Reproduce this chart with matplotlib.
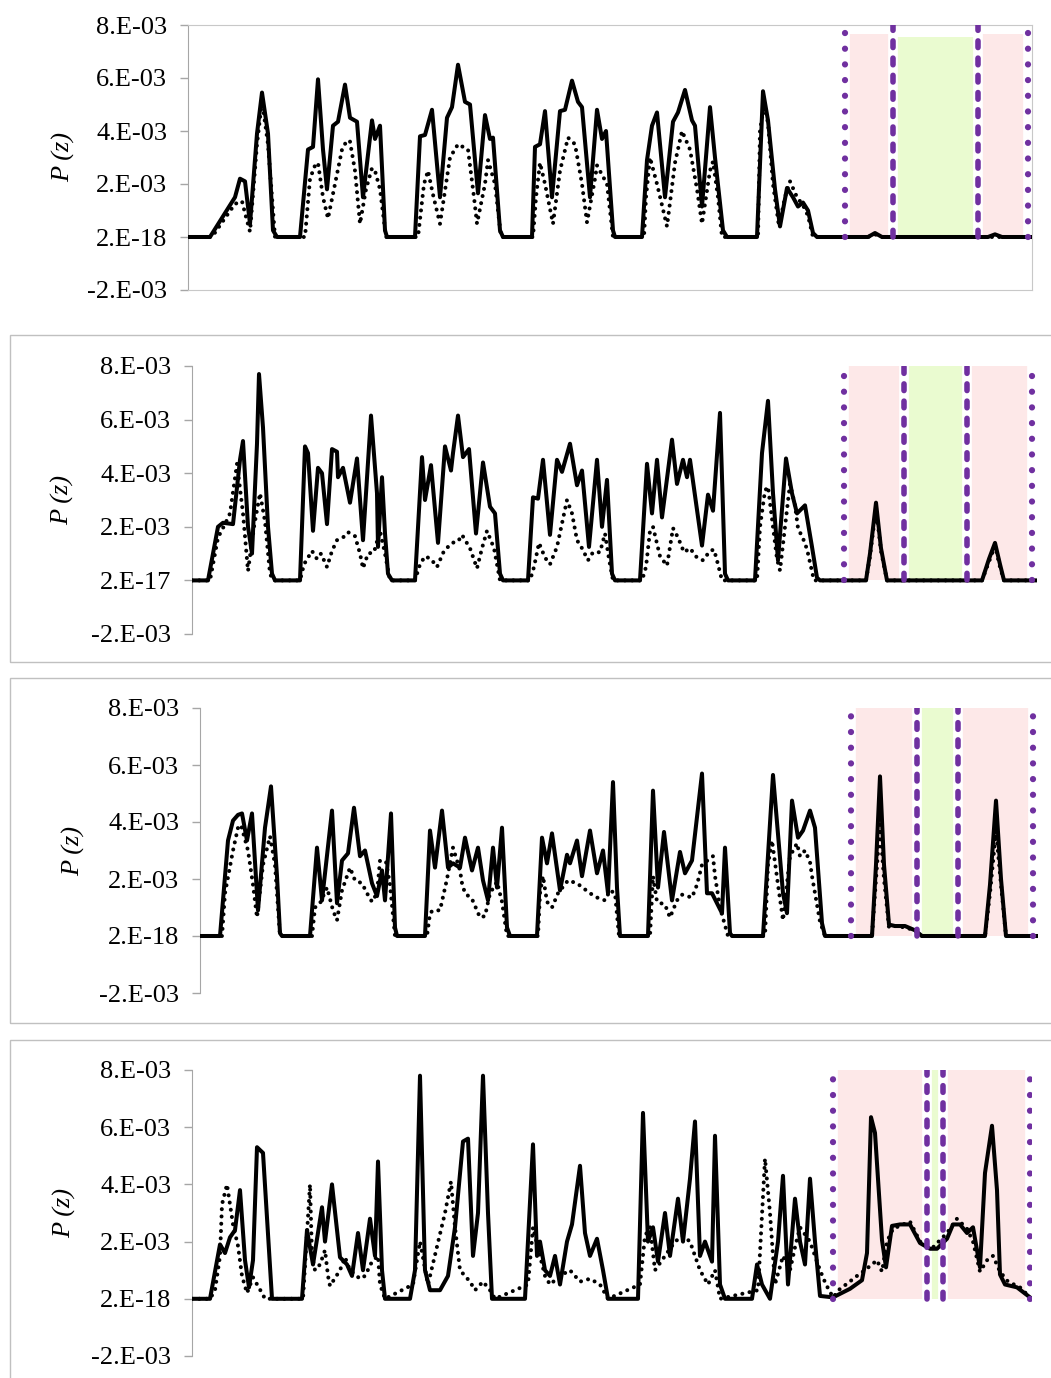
import numpy as np
import matplotlib.pyplot as plt
from matplotlib.patches import Rectangle

plt.rcParams['font.family'] = ['Liberation Serif', 'DejaVu Serif']

# P(z) in units of 1e-3, z in chart units
# ---------- panel 1 ----------
z1_solid = [188, 210, 222, 235, 240, 245, 250, 257, 262, 268, 273, 277, 300, 308, 313, 318, 323, 327, 333, 338,
            345, 350, 357, 363, 372, 375, 380, 385, 387, 415, 420, 425, 432, 440, 447, 452, 458, 465, 470, 478,
            485, 490, 493, 500, 503, 532, 535, 540, 545, 552, 560, 565, 572, 578, 582, 590, 597, 602, 606, 613,
            615, 642, 647, 652, 657, 665, 673, 678, 685, 692, 695, 702, 710, 715, 723, 727, 757, 763, 768, 775,
            780, 787, 793, 798, 803, 808, 813, 817, 868, 875, 882, 988, 995, 1002, 1030]
p1_solid = [0, 0, 0.72, 1.5, 2.2, 2.1, 0.5, 3.9, 5.45, 3.9, 0.25, 0, 0, 3.3, 3.4, 5.95, 3.3, 1.8, 4.2, 4.35,
            5.75, 4.5, 4.35, 1.5, 4.4, 3.7, 4.2, 0.25, 0, 0, 3.8, 3.85, 4.8, 1.5, 4.5, 4.9, 6.5, 5.1, 5.0, 1.65,
            4.6, 3.7, 3.75, 0.25, 0, 0, 3.4, 3.5, 4.75, 1.5, 4.75, 4.8, 5.9, 5.1, 4.9, 1.5, 4.8, 3.7, 4.0, 0.25,
            0, 0, 2.9, 4.2, 4.7, 1.5, 4.35, 4.7, 5.55, 4.4, 4.2, 1.15, 4.9, 3.0, 0.25, 0, 0, 5.5, 4.4, 1.8,
            0.4, 1.85, 1.5, 1.15, 1.3, 1.0, 0.15, 0, 0, 0.15, 0, 0, 0.1, 0, 0]
z1_dot = [188, 212, 222, 235, 242, 245, 250, 257, 262, 268, 275, 305, 310, 315, 318, 323, 328, 335, 342, 347,
          350, 355, 360, 366, 372, 375, 380, 386, 418, 424, 428, 433, 440, 450, 458, 468, 474, 477, 485, 488,
          495, 501, 533, 536, 540, 545, 553, 560, 568, 575, 582, 587, 595, 597, 607, 613, 644, 646, 650, 657,
          667, 675, 682, 690, 697, 702, 710, 713, 718, 722, 758, 760, 764, 768, 773, 779, 785, 790, 797, 803,
          808, 813, 868, 875, 882, 1030]
p1_dot = [0, 0, 0.55, 1.25, 1.35, 0.9, 0.2, 3.5, 5.15, 3.5, 0, 0, 2.2, 2.7, 2.8, 1.5, 0.7, 2.0, 3.3, 3.65,
          3.6, 2.5, 0.5, 1.8, 2.6, 2.5, 1.8, 0, 0, 2.0, 2.5, 1.6, 0.5, 3.0, 3.5, 3.3, 1.5, 0.5, 2.0, 2.9,
          2.0, 0, 0, 1.5, 2.8, 2.0, 0.5, 2.5, 3.75, 3.5, 2.0, 0.55, 2.2, 2.7, 2.0, 0, 0, 1.5, 3.0, 2.0,
          0.4, 2.8, 4.0, 3.3, 1.8, 0.5, 2.5, 2.85, 1.5, 0, 0, 4.0, 5.0, 4.3, 2.0, 0.4, 1.5, 2.1, 1.5, 1.2,
          0.8, 0, 0, 0.1, 0, 0]

# ---------- panel 2 ----------
z2_solid = [192, 208, 218, 223, 233, 240, 243, 248, 252, 257, 259, 263, 268, 272, 275, 300, 305, 308, 313, 318,
            322, 327, 332, 337, 338, 343, 350, 357, 363, 371, 377, 378, 382, 385, 388, 392, 415, 422, 425, 431,
            438, 445, 451, 453, 458, 463, 469, 476, 483, 490, 495, 500, 503, 528, 533, 538, 543, 550, 557, 562,
            570, 577, 582, 589, 597, 602, 607, 612, 615, 640, 647, 652, 657, 662, 672, 677, 683, 687, 690, 702,
            708, 713, 720, 725, 728, 755, 762, 768, 773, 778, 786, 792, 797, 805, 812, 817, 820, 866, 870, 876,
            881, 887, 982, 989, 995, 1000, 1004, 1035]
p2_solid = [0, 0, 2.0, 2.15, 2.1, 4.5, 5.2, 2.0, 1.0, 5.1, 7.7, 5.7, 2.0, 0.25, 0, 0, 5.0, 4.75, 1.85, 4.2,
            4.0, 2.1, 4.9, 4.8, 3.85, 4.2, 2.9, 4.55, 1.5, 6.15, 3.25, 1.25, 3.85, 1.75, 0.25, 0, 0, 4.6, 3.0, 4.3,
            1.4, 5.0, 4.1, 4.75, 6.15, 4.6, 4.9, 1.75, 4.4, 2.75, 2.5, 0.25, 0, 0, 3.1, 3.05, 4.5, 1.7, 4.5, 4.05,
            5.1, 3.55, 4.1, 1.25, 4.5, 2.0, 3.75, 0.25, 0, 0, 4.35, 2.5, 4.5, 2.35, 5.25, 3.6, 4.5, 3.85, 4.5, 1.3,
            3.2, 2.6, 6.25, 0.25, 0, 0, 4.75, 6.7, 3.25, 0.75, 4.55, 3.25, 2.5, 2.8, 1.25, 0.1, 0, 0, 1.0, 2.9,
            1.2, 0, 0, 0.8, 1.4, 0.6, 0, 0]
z2_dot = [192, 210, 218, 225, 230, 237, 243, 248, 254, 260, 265, 270, 273, 300, 304, 308, 312, 317, 321, 327,
          332, 337, 343, 348, 355, 360, 363, 368, 374, 380, 385, 390, 415, 420, 425, 431, 437, 444, 452, 458,
          462, 470, 477, 482, 487, 494, 500, 530, 534, 539, 545, 550, 557, 567, 572, 577, 582, 588, 593, 600,
          605, 609, 613, 642, 646, 650, 653, 660, 667, 673, 678, 684, 690, 697, 703, 710, 714, 718, 722, 757,
          760, 765, 768, 773, 777, 780, 785, 790, 795, 798, 805, 808, 814, 866, 870, 876, 881, 887, 982, 989,
          995, 1000, 1004, 1035]
p2_dot = [0, 0, 1.6, 2.1, 2.5, 4.35, 2.5, 0.35, 2.0, 3.25, 2.2, 0.25, 0, 0, 0.6, 0.85, 1.1, 0.8, 1.0, 0.5,
          1.1, 1.5, 1.6, 1.8, 1.65, 1.0, 0.45, 1.0, 1.05, 1.85, 1.0, 0, 0, 0.6, 0.9, 0.8, 0.5, 1.1, 1.4, 1.45,
          1.7, 1.2, 0.45, 1.2, 1.85, 1.2, 0, 0, 0.5, 1.4, 0.85, 0.6, 1.25, 3.0, 2.5, 1.5, 1.2, 0.75, 1.05, 1.05,
          1.75, 0.8, 0, 0, 0.5, 1.85, 2.0, 0.9, 0.55, 1.95, 1.6, 1.05, 1.2, 0.85, 0.75, 1.1, 1.15, 0.6, 0, 0,
          2.0, 3.35, 3.5, 2.0, 0.8, 0.37, 2.0, 3.6, 2.8, 1.95, 1.4, 1.0, 0, 0, 0.9, 2.7, 1.1, 0, 0, 0.7,
          1.3, 0.5, 0, 0]

# ---------- panel 3 ----------
z3_solid = [200, 220, 228, 233, 238, 242, 247, 252, 258, 265, 271, 277, 280, 282, 310, 317, 322, 332, 337, 342,
            348, 354, 360, 365, 372, 377, 382, 385, 391, 395, 397, 425, 430, 435, 442, 448, 453, 460, 465, 472,
            478, 483, 488, 493, 497, 502, 507, 510, 537, 542, 547, 552, 560, 567, 570, 577, 582, 590, 597, 603,
            608, 613, 617, 620, 648, 653, 658, 664, 672, 680, 685, 692, 702, 707, 712, 717, 722, 725, 730, 732,
            763, 773, 783, 787, 792, 798, 803, 810, 815, 822, 825, 872, 876, 880, 884, 889, 895, 905, 915, 922,
            985, 990, 996, 1001, 1006, 1037]
p3_solid = [0, 0, 3.35, 4.05, 4.25, 4.3, 3.35, 4.3, 0.9, 3.8, 5.25, 2.1, 0.1, 0, 0, 3.1, 1.25, 4.4, 1.15, 2.65,
            2.9, 4.5, 2.8, 3.0, 1.85, 1.4, 2.3, 1.25, 4.3, 0.3, 0, 0, 3.7, 2.4, 4.4, 2.4, 2.55, 2.4, 3.45, 2.3,
            3.1, 1.95, 1.25, 3.1, 1.7, 3.8, 0.3, 0, 0, 3.45, 2.55, 3.6, 1.6, 2.85, 2.55, 3.35, 2.1, 3.7, 2.2, 3.0,
            1.5, 5.4, 1.7, 0, 0, 5.1, 1.7, 3.65, 1.25, 2.95, 2.2, 2.65, 5.7, 1.5, 1.5, 1.15, 0.8, 3.1, 0.1, 0,
            0, 5.65, 1.5, 0.8, 4.75, 3.45, 3.7, 4.4, 3.8, 0.45, 0, 0, 2.5, 5.6, 2.5, 0.4, 0.35, 0.35, 0.2, 0,
            0, 1.8, 4.75, 2.0, 0, 0]
z3_dot = [200, 222, 225, 233, 238, 241, 248, 253, 257, 263, 270, 275, 280, 312, 315, 320, 327, 333, 337, 342,
          350, 355, 362, 367, 372, 377, 380, 386, 390, 395, 427, 430, 433, 440, 447, 453, 460, 462, 465, 472,
          480, 485, 490, 497, 502, 507, 538, 540, 543, 547, 552, 558, 568, 577, 590, 597, 605, 610, 615, 619,
          650, 653, 657, 665, 670, 677, 682, 692, 697, 702, 713, 715, 720, 728, 765, 768, 772, 778, 783, 790,
          797, 800, 805, 810, 812, 820, 825, 872, 876, 880, 884, 889, 895, 905, 915, 922, 985, 990, 996, 1001,
          1006, 1037]
p3_dot = [0, 0, 1.5, 3.0, 3.8, 3.9, 3.0, 1.8, 0.65, 2.5, 3.5, 2.5, 0, 0, 1.0, 1.15, 1.7, 0.9, 0.55, 1.6,
          2.4, 1.95, 1.85, 1.5, 1.2, 1.5, 2.65, 2.6, 1.8, 0, 0, 0.8, 0.9, 0.9, 2.0, 3.1, 2.3, 1.85, 1.5, 1.3,
          0.65, 0.7, 1.5, 1.9, 1.2, 0, 0, 1.5, 2.1, 1.2, 1.0, 1.5, 1.95, 1.85, 1.5, 1.35, 1.25, 1.6, 1.5, 0,
          0, 2.1, 1.2, 1.1, 0.65, 1.25, 1.45, 1.35, 1.8, 2.5, 2.8, 2.1, 1.0, 0, 0, 2.5, 3.35, 1.8, 0.55, 2.8,
          3.25, 2.8, 3.0, 2.6, 2.1, 0.5, 0, 0, 2.0, 3.9, 2.0, 0.3, 0.35, 0.3, 0.2, 0, 0, 1.5, 3.7, 1.8,
          0, 0]

# ---------- panel 4 ----------
z4_solid = [192, 210, 220, 225, 230, 235, 240, 245, 249, 253, 257, 263, 272, 302, 307, 313, 322, 325, 332, 340,
            347, 352, 358, 363, 370, 375, 378, 382, 385, 410, 415, 420, 425, 430, 440, 448, 455, 463, 468, 473,
            478, 483, 488, 492, 525, 533, 537, 540, 545, 550, 555, 560, 567, 572, 580, 585, 590, 597, 603, 608,
            638, 643, 648, 653, 658, 665, 670, 678, 683, 690, 695, 700, 705, 712, 715, 720, 725, 752, 757, 762,
            770, 778, 783, 788, 795, 800, 805, 810, 815, 820, 833, 850, 862, 867, 871, 875, 882, 886, 892, 900,
            910, 920, 930, 937, 947, 953, 960, 967, 973, 980, 985, 992, 997, 1000, 1005, 1017, 1030]
p4_solid = [0, 0, 1.9, 1.6, 2.15, 2.4, 3.8, 1.35, 0.4, 1.35, 5.3, 5.1, 0, 0, 2.4, 1.2, 3.2, 2.0, 4.0, 1.45,
            1.2, 0.8, 2.3, 1.0, 2.8, 1.5, 4.8, 1.0, 0, 0, 1.0, 7.8, 1.0, 0.3, 0.3, 0.8, 2.5, 5.5, 5.6, 1.5,
            3.0, 7.8, 3.0, 0, 0, 5.4, 1.5, 2.0, 1.0, 0.8, 1.5, 0.5, 2.0, 2.6, 4.65, 2.3, 1.5, 2.1, 1.0, 0,
            0, 6.5, 2.0, 2.5, 1.3, 3.0, 1.5, 3.5, 2.0, 4.2, 6.2, 1.5, 2.0, 1.3, 5.7, 0.5, 0, 0, 1.2, 0.5,
            0, 2.0, 4.3, 0.5, 3.5, 2.0, 1.2, 4.2, 2.0, 0.1, 0.05, 0.35, 0.65, 1.6, 6.35, 5.8, 2.05, 1.1, 2.55, 2.6,
            2.6, 1.95, 1.75, 1.75, 2.1, 2.6, 2.6, 2.3, 2.5, 1.1, 4.4, 6.05, 3.8, 0.85, 0.5, 0.4, 0.05]
z4_dot = [192, 210, 215, 220, 222, 227, 233, 238, 242, 247, 253, 262, 265, 303, 310, 312, 315, 320, 325, 328,
          330, 340, 345, 350, 360, 365, 372, 378, 380, 385, 413, 420, 428, 445, 451, 455, 460, 470, 475, 483,
          490, 495, 528, 533, 540, 545, 550, 560, 570, 580, 590, 600, 608, 640, 645, 650, 655, 665, 675, 683,
          690, 700, 708, 715, 720, 758, 765, 770, 775, 783, 790, 795, 800, 810, 820, 826, 833, 840, 848, 855,
          863, 872, 877, 882, 887, 893, 910, 920, 933, 947, 957, 967, 973, 980, 988, 993, 1000, 1008, 1020, 1030]
p4_dot = [0, 0, 0.3, 1.5, 3.3, 4.0, 2.6, 1.85, 0.8, 0.2, 0.75, 0.2, 0, 0, 4.0, 1.5, 1.0, 1.2, 1.7, 0.8,
          0.45, 1.0, 1.45, 1.0, 0.7, 0.8, 1.3, 1.5, 0.5, 0, 0.5, 2.0, 0.5, 3.0, 4.1, 2.5, 1.0, 0.6, 0.3, 0.6,
          0.3, 0, 0.5, 2.5, 1.5, 0.8, 0.5, 0.8, 1.0, 0.6, 0.7, 0.5, 0, 0.5, 2.2, 2.5, 1.0, 1.5, 2.0, 2.2,
          2.0, 1.0, 0.5, 1.0, 0, 0.3, 4.9, 3.0, 0.5, 1.5, 1.0, 1.8, 2.5, 2.0, 1.0, 0.5, 0.05, 0.35, 0.55, 0.75,
          0.95, 1.2, 1.35, 0.95, 2.0, 2.45, 2.7, 2.0, 1.8, 2.3, 2.8, 2.45, 2.0, 0.95, 1.4, 1.5, 0.95, 0.6, 0.4, 0.05]

# region boundaries (z) : outer dotted lines, inner dashed lines
dotted_lines = [(845, 1028), (844, 1032), (851, 1033), (833, 1030)]
dashed_lines = [(893, 978), (904, 967), (917, 958), (927, 943)]
band_top = [7.65, 8.1, 8.0, 8.1]
green_top = [7.55, 8.1, 8.0, 8.1]
zero_labels = ['2.E-18', '2.E-17', '2.E-18', '2.E-18']
yticks = [-2, 0, 2, 4, 6, 8]

solids = [(z1_solid, p1_solid), (z2_solid, p2_solid), (z3_solid, p3_solid), (z4_solid, p4_solid)]
dots = [(z1_dot, p1_dot), (z2_dot, p2_dot), (z3_dot, p3_dot), (z4_dot, p4_dot)]

W, H = 1051, 1378
fig = plt.figure(figsize=(W / 100, H / 100), dpi=100)

# axes boxes in pixels: left, right, top, bottom
boxes = [(188, 1032, 25, 290), (192, 1037, 366, 634), (200, 1038, 708, 993), (192, 1032, 1070, 1356)]
label_x = [64, 63, 74, 65]
# outer chart borders (top, bottom) for panels 2-4
frames = [(335, 662), (678, 1023), (1040, 1390)]

purple = '#7030A0'
pink = '#FDE8E8'
green = '#EAFBD0'
grid_grey = '#A6A6A6'

for i in range(4):
    l, r, t, b = boxes[i]
    ax = fig.add_axes([l / W, 1 - b / H, (r - l) / W, (b - t) / H])
    ax.set_xlim(l, r)
    ax.set_ylim(-2, 8)

    d1, d2 = dotted_lines[i]
    a1, a2 = dashed_lines[i]
    ax.fill_between([d1, a1], 0, band_top[i], color=pink, lw=0, zorder=1)
    ax.fill_between([a2, d2], 0, band_top[i], color=pink, lw=0, zorder=1)
    ax.fill_between([a1, a2], 0, green_top[i], color=green, lw=0, zorder=1)
    for zz in [d1, d2, a1, a2]:
        ax.plot([zz, zz], [0, 8], color='white', lw=7, zorder=2, solid_capstyle='butt')

    zs, ps = solids[i]
    zd, pd = dots[i]
    ax.plot(zd, pd, color='black', lw=2.9, ls=(0, (0.01, 1.8)), dash_capstyle='round', zorder=3)
    ax.plot(zs, ps, color='black', lw=2.9, zorder=4, solid_joinstyle='round')

    for zz in [d1, d2]:
        ax.plot([zz, zz], [0, 8], color=purple, lw=4.5, ls=(0, (0.01, 2.5)),
                dash_capstyle='round', zorder=5)
    for zz in [a1, a2]:
        ax.plot([zz, zz], [0, 8], color=purple, lw=4.0, ls=(0, (1.2, 1.9)),
                dash_capstyle='round', zorder=5)

    ax.set_yticks(yticks)
    ax.set_yticklabels(['-2.E-03', zero_labels[i], '2.E-03', '4.E-03', '6.E-03', '8.E-03'], fontsize=19)
    ax.set_xticks([])
    ax.tick_params(axis='y', direction='out', length=6, width=1, color=grid_grey, pad=9)
    ax.spines['left'].set_color(grid_grey)
    if i == 0:
        for s in ['top', 'right', 'bottom']:
            ax.spines[s].set_color('#C8C8C8')
    else:
        for s in ['top', 'right', 'bottom']:
            ax.spines[s].set_visible(False)
    ax.patch.set_alpha(0)

    fig.text(label_x[i] / W, 1 - (t + b) / 2 / H, 'P (z)', rotation=90, ha='center', va='center',
             fontsize=19, fontstyle='italic')

for top, bot in frames:
    fig.add_artist(Rectangle((10 / W, 1 - bot / H), 1.2, (bot - top) / H, transform=fig.transFigure,
                             fill=False, ec='#C0C0C0', lw=1))

fig.savefig('out.png', dpi=100)
